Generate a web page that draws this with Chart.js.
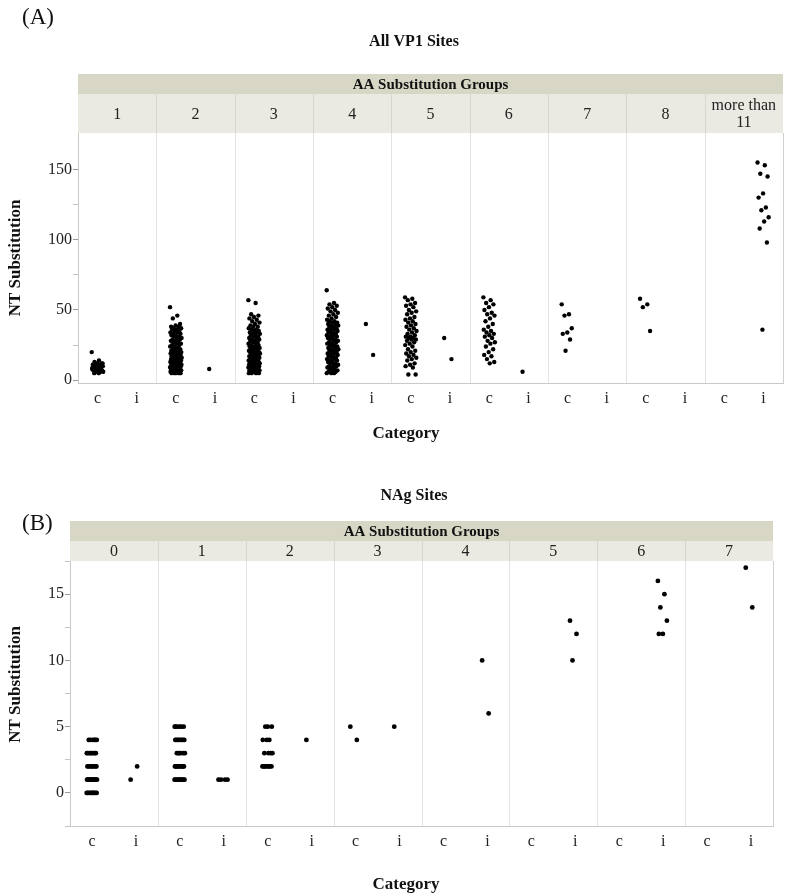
<!DOCTYPE html>
<html>
<head>
<meta charset="utf-8">
<script src="https://cdn.jsdelivr.net/npm/chart.js@4.4.1/dist/chart.umd.min.js"></script>
<style>
  body { margin: 0; background: #fff; }
  canvas { position: absolute; left: 0; }
  #chartA { top: 0; }
  #chartB { top: 450px; }
</style>
</head>
<body>
<canvas id="chartA" width="787" height="450"></canvas>
<canvas id="chartB" width="787" height="446"></canvas>
<script>
// ---- panel A: All VP1 Sites ----
const vp1Groups = ['1', '2', '3', '4', '5', '6', '7', '8', 'more than|11'];
const vp1Cats = ['c', 'i'];
// NT substitution values per AA group, category "c"
const vp1C = [
    [20, 14, 13, 12, 12, 11, 11, 10, 10, 10, 9, 9, 9, 8, 8, 8, 7, 7, 7, 6, 6, 6, 5, 5, 11, 10, 9, 8, 7, 12],
    [52, 46, 44, 40, 39, 38, 38, 37, 37, 36, 36, 35, 35, 34, 34, 33, 33, 32, 32, 31, 31, 30, 30, 29, 29, 28, 28,
     27, 27, 26, 26, 25, 25, 24, 24, 23, 23, 22, 22, 21, 21, 21, 20, 20, 20, 19, 19, 19, 18, 18, 18, 17, 17, 17,
     16, 16, 16, 16, 15, 15, 15, 15, 14, 14, 14, 14, 13, 13, 13, 13, 12, 12, 12, 12, 12, 11, 11, 11, 11, 11, 10,
     10, 10, 10, 10, 9, 9, 9, 9, 9, 8, 8, 8, 8, 8, 7, 7, 7, 7, 7, 6, 6, 6, 6, 6, 5, 5, 5, 5, 5],
    [57, 55, 47, 46, 45, 44, 43, 42, 41, 40, 39, 38, 38, 37, 36, 36, 35, 35, 34, 34, 33, 33, 32, 32, 31, 31, 30,
     30, 29, 29, 28, 28, 27, 27, 26, 26, 25, 25, 24, 24, 24, 23, 23, 23, 22, 22, 22, 21, 21, 21, 20, 20, 20, 19,
     19, 19, 18, 18, 18, 17, 17, 17, 16, 16, 16, 15, 15, 15, 14, 14, 14, 13, 13, 13, 12, 12, 12, 12, 11, 11, 11,
     11, 10, 10, 10, 10, 9, 9, 9, 9, 8, 8, 8, 8, 7, 7, 7, 7, 6, 6, 6, 6, 5, 5, 5, 5],
    [64, 55, 54, 53, 52, 51, 50, 49, 48, 47, 46, 45, 44, 43, 42, 42, 41, 41, 40, 40, 39, 39, 38, 38, 37, 37, 36,
     36, 35, 35, 34, 34, 33, 33, 32, 32, 31, 31, 30, 30, 29, 29, 28, 28, 27, 27, 26, 26, 25, 25, 24, 24, 23, 23,
     22, 22, 21, 21, 20, 20, 19, 19, 18, 18, 17, 17, 16, 16, 15, 15, 14, 14, 13, 13, 12, 12, 11, 11, 10, 10, 9,
     9, 8, 8, 7, 7, 6, 6, 5, 5, 5],
    [59, 58, 57, 55, 54, 53, 52, 50, 49, 48, 47, 45, 44, 43, 42, 41, 40, 39, 38, 37, 36, 35, 34, 33, 32, 31, 31,
     30, 30, 29, 29, 28, 27, 26, 25, 24, 22, 21, 20, 19, 18, 17, 16, 15, 14, 12, 11, 10, 9, 4, 4],
    [59, 57, 55, 54, 52, 50, 48, 47, 46, 44, 42, 40, 38, 36, 35, 34, 33, 32, 31, 30, 28, 27, 26, 24, 22, 20, 18,
     17, 15, 13, 12],
    [54, 47, 46, 37, 34, 33, 29, 21],
    [58, 54, 52, 35],
    []
];
// category "i"
const vp1I = [
    [],
    [8],
    [],
    [40, 18],
    [30, 15],
    [6],
    [],
    [],
    [155, 153, 147, 145, 133, 130, 123, 121, 116, 113, 108, 98, 36]
];
const vp1YTicks = [0, 25, 50, 75, 100, 125, 150];

// ---- panel B: NAg Sites ----
const nagGroups = ['0', '1', '2', '3', '4', '5', '6', '7'];
const nagC = [
    [0, 0, 0, 0, 0, 0, 0, 0, 0, 0, 1, 1, 1, 1, 1, 1, 1, 1, 1, 1, 1, 1, 1, 1, 2, 2, 2, 2, 2, 2, 2, 2,
     3, 3, 3, 3, 3, 3, 3, 3, 4, 4, 4, 4, 4, 4],
    [1, 1, 1, 1, 1, 1, 1, 1, 1, 1, 2, 2, 2, 2, 2, 2, 2, 2, 2, 2, 3, 3, 3, 3, 3, 3, 4, 4, 4, 4, 4, 4, 4, 4,
     5, 5, 5, 5, 5, 5],
    [2, 2, 2, 2, 2, 2, 2, 2, 3, 3, 3, 3, 4, 4, 4, 5, 5, 5],
    [5, 4],
    [],
    [],
    [],
    []
];
const nagI = [
    [1, 2],
    [1, 1, 1, 1],
    [4],
    [5],
    [10, 6],
    [13, 12, 10],
    [16, 15, 14, 13, 12, 12],
    [17, 14]
];
const nagYTicks = [-2.5, 0, 2.5, 5, 7.5, 10, 12.5, 15, 17.5];

const SERIF = "'Liberation Serif', 'DejaVu Serif', serif";

// spread points of one category sideways, the way the jitter plot does
function jitter(k, w) {
    return (((k * 0.618034) % 1) - 0.5) * w;
}

function buildPoints(cList, iList, w) {
    const pts = [];
    cList.forEach((vals, g) => vals.forEach((v, k) => pts.push({ x: g * 2 + 0.5 + jitter(k, w), y: v })));
    iList.forEach((vals, g) => vals.forEach((v, k) => pts.push({ x: g * 2 + 1.5 + jitter(k, w), y: v })));
    return pts;
}

const panelDecor = {
    id: 'panelDecor',
    beforeDatasetsDraw(chart, args, o) {
        const { ctx, chartArea: a, scales: { x } } = chart;
        ctx.save();
        ctx.strokeStyle = '#e3e3e3';
        ctx.lineWidth = 1;
        for (let g = 1; g < o.groups.length; g++) {
            const px = Math.round(x.getPixelForValue(g * 2)) + 0.5;
            ctx.beginPath();
            ctx.moveTo(px, a.top);
            ctx.lineTo(px, a.bottom);
            ctx.stroke();
        }
        ctx.strokeStyle = '#d0d0d0';
        ctx.beginPath();
        ctx.moveTo(Math.round(a.right) + 0.5, a.top);
        ctx.lineTo(Math.round(a.right) + 0.5, a.bottom);
        ctx.stroke();
        ctx.restore();
    },
    afterDraw(chart, args, o) {
        const { ctx, chartArea: a, scales: { x } } = chart;
        const cellTop = a.top - o.cellH;
        const bandTop = cellTop - o.bandH;
        ctx.save();
        // header band
        ctx.fillStyle = '#d8d7c6';
        ctx.fillRect(a.left, bandTop, a.right - a.left, o.bandH);
        ctx.fillStyle = '#ebeae2';
        ctx.fillRect(a.left, cellTop, a.right - a.left, o.cellH);
        ctx.fillStyle = '#111';
        ctx.textAlign = 'center';
        ctx.textBaseline = 'middle';
        ctx.font = 'bold ' + o.bandFont + 'px ' + SERIF;
        ctx.fillText('AA Substitution Groups', (a.left + a.right) / 2, bandTop + o.bandH / 2 + 1);
        // group cells
        ctx.strokeStyle = '#d6d6ce';
        ctx.lineWidth = 1;
        ctx.font = o.cellFont + 'px ' + SERIF;
        ctx.fillStyle = '#222';
        o.groups.forEach((label, g) => {
            const x0 = x.getPixelForValue(g * 2);
            const x1 = x.getPixelForValue(g * 2 + 2);
            if (g > 0) {
                ctx.beginPath();
                ctx.moveTo(Math.round(x0) + 0.5, cellTop);
                ctx.lineTo(Math.round(x0) + 0.5, a.top);
                ctx.stroke();
            }
            const lines = label.split('|');
            const cy = cellTop + o.cellH / 2;
            lines.forEach((ln, j) => {
                ctx.fillText(ln, (x0 + x1) / 2, cy + (j - (lines.length - 1) / 2) * 17 + 1);
            });
        });
        // panel letter, title, axis titles
        ctx.fillStyle = '#111';
        ctx.font = '23px ' + SERIF;
        ctx.textAlign = 'left';
        ctx.fillText(o.letter, 22, o.letterY);
        ctx.textAlign = 'center';
        ctx.font = 'bold 16px ' + SERIF;
        ctx.fillText(o.title, 414, o.titleY);
        ctx.font = 'bold 17px ' + SERIF;
        ctx.fillText('Category', 406, o.catY);
        ctx.translate(16, (a.top + a.bottom) / 2 + o.ntShift);
        ctx.rotate(-Math.PI / 2);
        ctx.fillText('NT Substitution', 0, 0);
        ctx.restore();
    }
};

function makeChart(id, cfg) {
    const ctx = document.getElementById(id).getContext('2d');
    const nGroups = cfg.groups.length;
    return new Chart(ctx, {
        type: 'scatter',
        data: {
            datasets: [{
                data: buildPoints(cfg.cList, cfg.iList, cfg.jitterW),
                backgroundColor: '#000',
                borderWidth: 0,
                pointRadius: cfg.radius,
                pointHoverRadius: cfg.radius
            }]
        },
        options: {
            responsive: false,
            animation: false,
            devicePixelRatio: 1,
            layout: { padding: cfg.padding },
            plugins: {
                legend: { display: false },
                tooltip: { enabled: false },
                panelDecor: cfg.decor
            },
            scales: {
                x: {
                    type: 'linear',
                    min: 0,
                    max: nGroups * 2,
                    afterBuildTicks: (s) => {
                        s.ticks = [];
                        for (let k = 0; k < nGroups * 2; k++) s.ticks.push({ value: k + 0.5 });
                    },
                    afterFit: (s) => { s.height = cfg.xHeight; },
                    grid: { display: false, drawTicks: false },
                    border: { display: true, color: '#c9c9c9' },
                    ticks: {
                        padding: 6,
                        maxRotation: 0,
                        autoSkip: false,
                        color: '#222',
                        font: { family: SERIF, size: 16 },
                        callback: (v) => vp1Cats[Math.round(v - 0.5) % 2]
                    }
                },
                y: {
                    min: cfg.yMin,
                    max: cfg.yMax,
                    afterBuildTicks: (s) => { s.ticks = cfg.yTicks.map(v => ({ value: v })); },
                    afterFit: (s) => { s.width = cfg.yWidth; },
                    grid: {
                        drawOnChartArea: false,
                        tickLength: 5,
                        tickColor: (c) => cfg.yLabels.includes(c.tick.value) ? '#9a9a9a' : '#c4c4c4'
                    },
                    border: { display: true, color: '#c9c9c9' },
                    ticks: {
                        padding: 1,
                        color: '#222',
                        font: { family: SERIF, size: 16 },
                        callback: (v) => cfg.yLabels.includes(v) ? String(v) : ''
                    }
                }
            }
        },
        plugins: [panelDecor]
    });
}

makeChart('chartA', {
    groups: vp1Groups,
    cList: vp1C,
    iList: vp1I,
    yMin: -2,
    yMax: 176,
    yTicks: vp1YTicks,
    yLabels: [0, 50, 100, 150],
    yWidth: 78,
    xHeight: 67,
    jitterW: 0.3,
    radius: 2.2,
    padding: { top: 133, right: 4, bottom: 0, left: 0 },
    decor: {
        groups: vp1Groups, bandH: 20, cellH: 39, bandFont: 15, cellFont: 16,
        letter: '(A)', letterY: 18, title: 'All VP1 Sites', titleY: 42, catY: 434, ntShift: 0
    }
});

makeChart('chartB', {
    groups: nagGroups,
    cList: nagC,
    iList: nagI,
    yMin: -2.5,
    yMax: 17.5,
    yTicks: nagYTicks,
    yLabels: [0, 5, 10, 15],
    yWidth: 70,
    xHeight: 70,
    jitterW: 0.24,
    radius: 2.4,
    padding: { top: 111, right: 14, bottom: 0, left: 0 },
    decor: {
        groups: nagGroups, bandH: 20, cellH: 20, bandFont: 15, cellFont: 16,
        letter: '(B)', letterY: 74, title: 'NAg Sites', titleY: 46, catY: 435, ntShift: -9
    }
});
</script>
</body>
</html>
